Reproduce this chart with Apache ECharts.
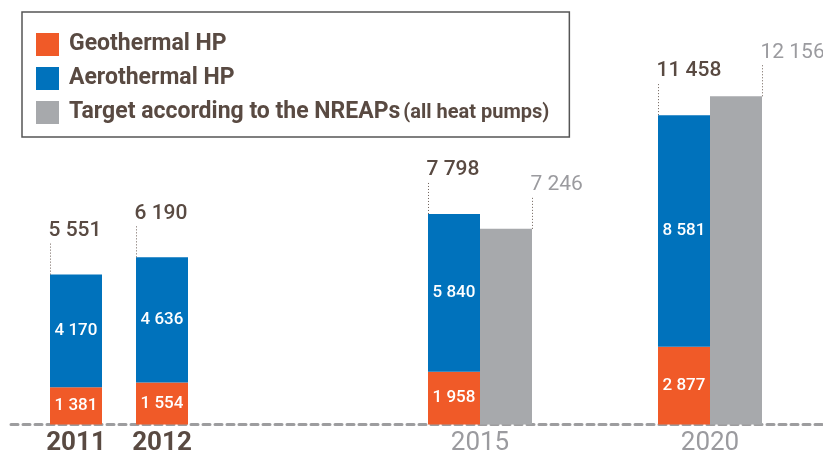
<!DOCTYPE html>
<html>
<head>
<meta charset="utf-8">
<script src="https://cdn.jsdelivr.net/npm/echarts@6/dist/echarts.min.js"></script>
<style>
  html, body { margin: 0; padding: 0; background: #fff; }
  #chart { width: 823px; height: 451px; }
</style>
</head>
<body>
<div id="chart"></div>
<script>
// data
const pastYears = ['2011', '2012'];
const pastGeo = [1381, 1554];
const pastAero = [4170, 4636];

const planYears = ['2015', '2020'];
const planGeo = [1958, 2877];
const planAero = [5840, 8581];
const planTarget = [7246, 12156];

const seriesNames = ['Geothermal HP', 'Aerothermal HP', 'Target according to the NREAPs'];

const FONT = "Roboto, 'Noto Sans', sans-serif";
const DARK = '#594a42';
const GREY_TXT = '#9b9b9f';
const COLORS = ['#f05a28', '#0072bc', '#a7a9ac'];
const BAR_W = 52;

const fmt = v => String(v).replace(/\B(?=(\d{3})+(?!\d))/g, ' ');

const pastTotals = pastGeo.map((v, i) => v + pastAero[i]);
const planTotals = planGeo.map((v, i) => v + planAero[i]);

const chart = echarts.init(document.getElementById('chart'));

// leader line + number above a bar corner
function totalLabel(offset, color, weight) {
  return (params, api) => {
    const p = api.coord([api.value(0), api.value(1)]);
    const x = Math.round(p[0] + offset) + 0.5;
    const y = p[1];
    return {
      type: 'group',
      children: [
        {
          type: 'line',
          shape: { x1: x, y1: y, x2: x, y2: y - 33 },
          style: { stroke: '#6e6059', lineWidth: 1, lineDash: [1, 2] }
        },
        {
          type: 'text',
          x: x - 2,
          y: y - 33.5,
          style: {
            text: fmt(api.value(1)),
            fill: color,
            font: weight + ' 21px ' + FONT,
            align: 'left',
            verticalAlign: 'bottom'
          }
        }
      ]
    };
  };
}

const insideLabel = {
  show: true,
  position: 'inside',
  color: '#fff',
  fontFamily: FONT,
  fontWeight: 500,
  fontSize: 17,
  formatter: p => fmt(p.value)
};

const yAxisBase = { type: 'value', min: 0, max: 14000, show: false };
const gridBase = { top: 46.5, bottom: 26.5, outerBoundsMode: 'none', containLabel: false };

const option = {
  animation: false,
  color: COLORS,
  legend: {
    data: seriesNames,
    orient: 'vertical',
    left: 22,
    top: 12,
    padding: [21, 20, 13, 14],
    borderColor: '#555',
    borderWidth: 1.5,
    itemWidth: 23,
    itemHeight: 23,
    itemGap: 11,
    icon: 'rect',
    selectedMode: false,
    formatter: name => name === seriesNames[2]
      ? '{b|' + name + '} {s|(all heat pumps)}'
      : '{b|' + name + '}',
    textStyle: {
      color: DARK,
      fontFamily: FONT,
      rich: {
        b: { fontSize: 23, fontWeight: 'bold', color: DARK, fontFamily: FONT, lineHeight: 23, padding: [0, 0, 0, 5] },
        s: { fontSize: 20, fontWeight: 'bold', color: DARK, fontFamily: FONT, lineHeight: 23 }
      }
    }
  },
  grid: [
    Object.assign({ left: 11, right: 0 }, gridBase),
    Object.assign({ left: 33, width: 172 }, gridBase),
    Object.assign({ left: 365, width: 460 }, gridBase)
  ],
  xAxis: [
    {
      gridIndex: 0, type: 'value', min: 0, max: 1,
      axisLine: { show: true, lineStyle: { color: '#9d9d9f', width: 3, type: [7, 5] } },
      axisTick: { show: false }, axisLabel: { show: false }, splitLine: { show: false }
    },
    {
      gridIndex: 1, type: 'category', data: pastYears,
      axisLine: { show: false }, axisTick: { show: false },
      axisLabel: { interval: 0, color: DARK, fontFamily: FONT, fontWeight: 'bold', fontSize: 26, margin: 6 }
    },
    {
      gridIndex: 2, type: 'category', data: planYears,
      axisLine: { show: false }, axisTick: { show: false },
      axisLabel: { interval: 0, color: GREY_TXT, fontFamily: FONT, fontSize: 26, margin: 6 }
    }
  ],
  yAxis: [
    Object.assign({ gridIndex: 0 }, yAxisBase),
    Object.assign({ gridIndex: 1 }, yAxisBase),
    Object.assign({ gridIndex: 2 }, yAxisBase)
  ],
  series: [
    {
      name: seriesNames[0], type: 'bar', xAxisIndex: 1, yAxisIndex: 1, stack: 'past',
      barWidth: BAR_W, data: pastGeo, itemStyle: { color: COLORS[0] }, label: insideLabel
    },
    {
      name: seriesNames[1], type: 'bar', xAxisIndex: 1, yAxisIndex: 1, stack: 'past',
      barWidth: BAR_W, data: pastAero, itemStyle: { color: COLORS[1] }, label: insideLabel
    },
    {
      name: seriesNames[0], type: 'bar', xAxisIndex: 2, yAxisIndex: 2, stack: 'plan',
      barWidth: BAR_W, barGap: '0%', data: planGeo, itemStyle: { color: COLORS[0] }, label: insideLabel
    },
    {
      name: seriesNames[1], type: 'bar', xAxisIndex: 2, yAxisIndex: 2, stack: 'plan',
      barWidth: BAR_W, barGap: '0%', data: planAero, itemStyle: { color: COLORS[1] }, label: insideLabel
    },
    {
      name: seriesNames[2], type: 'bar', xAxisIndex: 2, yAxisIndex: 2,
      barWidth: BAR_W, barGap: '0%', data: planTarget, itemStyle: { color: COLORS[2] }
    },
    {
      type: 'custom', xAxisIndex: 1, yAxisIndex: 1, z: 5,
      data: pastTotals.map((v, i) => [i, v]),
      renderItem: totalLabel(-BAR_W / 2, DARK, '500')
    },
    {
      type: 'custom', xAxisIndex: 2, yAxisIndex: 2, z: 5,
      data: planTotals.map((v, i) => [i, v]),
      renderItem: totalLabel(-BAR_W, DARK, '500')
    },
    {
      type: 'custom', xAxisIndex: 2, yAxisIndex: 2, z: 5,
      data: planTarget.map((v, i) => [i, v]),
      renderItem: totalLabel(BAR_W, GREY_TXT, 'normal')
    }
  ]
};

chart.setOption(option);
</script>
</body>
</html>
